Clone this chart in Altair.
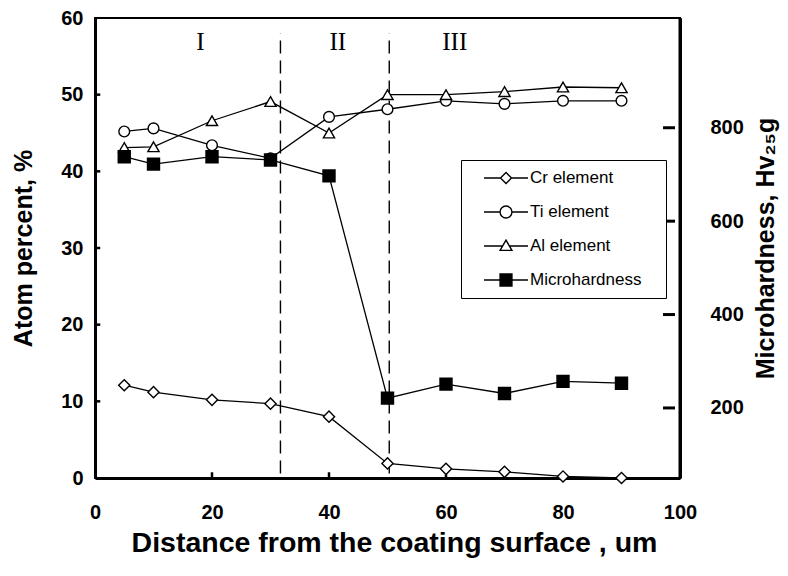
import altair as alt
import pandas as pd

# ---------------- data ----------------
distance = [5, 10, 20, 30, 40, 50, 60, 70, 80, 90]
cr_element = [12.1, 11.2, 10.2, 9.7, 8.0, 1.9, 1.2, 0.8, 0.2, 0.0]
ti_element = [45.2, 45.6, 43.4, 41.7, 47.1, 48.1, 49.2, 48.8, 49.2, 49.2]
al_element = [43.1, 43.2, 46.6, 49.1, 45.0, 50.0, 50.0, 50.4, 51.0, 50.9]
microhardness = [738, 722, 738, 731, 697, 221, 251, 231, 257, 253]

series_names = ["Cr element", "Ti element", "Al element", "Microhardness"]
x_ticks = [0, 20, 40, 60, 80, 100]
left_ticks = [0, 10, 20, 30, 40, 50, 60]
right_ticks = [200, 400, 600, 800]
boundaries = [31.7, 50.3]
region_labels = ["I", "II", "III"]
region_x = [18.0, 41.5, 61.5]
region_y = [56.9, 56.9, 56.9]

# ---------------- tables ----------------
elem = pd.DataFrame({
    "distance": distance * 3,
    "value": cr_element + ti_element + al_element,
    "series": ["Cr element"] * 10 + ["Ti element"] * 10 + ["Al element"] * 10,
})
micro = pd.DataFrame({"distance": distance, "hv": microhardness})
bound_df = pd.DataFrame({"b": boundaries, "y0": [0.6] * 2, "y1": [58.0] * 2})
region_df = pd.DataFrame({"label": region_labels, "x": region_x, "y": region_y})
xt_df = pd.DataFrame({"t": x_ticks[1:-1], "y0": [0.0] * 4, "y1": [0.75] * 4})
lt_df = pd.DataFrame({"t": left_ticks[1:-1], "x0": [0.0] * 5, "x1": [0.9] * 5})
rt_df = pd.DataFrame({"t": right_ticks, "x0": [97.1] * 4, "x1": [99.15] * 4})
frame_top = pd.DataFrame({"x0": [x_ticks[0]], "x1": [x_ticks[-1]], "y": [left_ticks[-1]]})
frame_right = pd.DataFrame({"x": [x_ticks[-1]], "y0": [left_ticks[0]], "y1": [left_ticks[-1]]})
legend_df = pd.DataFrame({"series": series_names, "distance": [0] * 4, "value": [0] * 4})

FONT = "Liberation Sans"

x_scale = alt.Scale(domain=[0, 100], nice=False, zero=False)
x_axis = alt.Axis(values=x_ticks, title="Distance from the coating surface , um",
                  labelPadding=24, titlePadding=6, titleFontSize=28.5, titleX=299,
                  ticks=False, grid=False, labelFlush=False)

left_scale = alt.Scale(domain=[0, 60], nice=False, zero=False)
left_axis = alt.Axis(values=left_ticks, orient="left", title="Atom percent, %",
                     labelPadding=12, titlePadding=24, ticks=False, grid=False)

right_scale = alt.Scale(domain=[50, 1035], nice=False, zero=False)
right_axis = alt.Axis(values=right_ticks, orient="right", title="Microhardness, Hv₂₅g",
                      titleAngle=270, labelPadding=30, titlePadding=35,
                      ticks=False, grid=False, domain=True, domainColor="black",
                      domainWidth=3)


def X(field):
    return alt.X(field, type="quantitative", scale=x_scale, axis=x_axis)


def YL(field):
    return alt.Y(field, type="quantitative", scale=left_scale, axis=left_axis)


def YR(field):
    return alt.Y(field, type="quantitative", scale=right_scale, axis=right_axis)


# ---------------- left-axis layers ----------------
elem_lines = alt.Chart(elem).mark_line(color="black", strokeWidth=1.3).encode(
    x=X("distance"), y=YL("value"), detail="series:N")

marker_style = dict(filled=True, fill="white", stroke="black", strokeWidth=1.4, opacity=1)
cr_pts = alt.Chart(elem).transform_filter(alt.datum.series == "Cr element").mark_point(
    shape="diamond", size=125, **marker_style).encode(x=X("distance"), y=YL("value"))
ti_pts = alt.Chart(elem).transform_filter(alt.datum.series == "Ti element").mark_point(
    shape="circle", size=115, **marker_style).encode(x=X("distance"), y=YL("value"))
al_pts = alt.Chart(elem).transform_filter(alt.datum.series == "Al element").mark_point(
    shape="triangle-up", size=125, **marker_style).encode(x=X("distance"), y=YL("value"))

bound_rules = alt.Chart(bound_df).mark_rule(color="black", strokeWidth=1.4,
                                             strokeDash=[13, 7]).encode(
    x=X("b"), y=YL("y0"), y2="y1")

region_text = alt.Chart(region_df).mark_text(font="Liberation Serif", fontSize=25,
                                             color="black", baseline="middle").encode(
    x=X("x"), y=YL("y"), text="label:N")

xticks_rules = alt.Chart(xt_df).mark_rule(color="black", strokeWidth=2.5).encode(
    x=X("t"), y=YL("y0"), y2="y1")
lticks_rules = alt.Chart(lt_df).mark_rule(color="black", strokeWidth=2.5).encode(
    x=X("x0"), x2="x1", y=YL("t"))
top_rule = alt.Chart(frame_top).mark_rule(color="black", strokeWidth=2).encode(
    x=X("x0"), x2="x1", y=YL("y"))
right_rule = alt.Chart(frame_right).mark_rule(color="black", strokeWidth=3).encode(
    x=X("x"), y=YL("y0"), y2="y1")

legend_paths = [
    "M-1,0H-0.25M0.25,0H1M-0.25,0L0,-0.25L0.25,0L0,0.25Z",
    "M-1,0H-0.27M0.27,0H1M-0.27,0A0.27,0.27,0,1,0,0.27,0A0.27,0.27,0,1,0,-0.27,0Z",
    "M-1,0H-0.155M0.155,0H1M0,-0.27L0.27,0.2L-0.27,0.2Z",
    "M-1,0H-0.27M0.27,0H1M-0.27,-0.27H0.27V0.27H-0.27Z",
]
legend_def = alt.Legend(
    title="\u00a0", titleOrient="right", titlePadding=17, titleFontSize=17,
    orient="none", legendX=366, legendY=142,
    padding=8, symbolOffset=14, symbolSize=1936, symbolStrokeColor="black",
    symbolStrokeWidth=1.4, symbolOpacity=1, clipHeight=20, rowPadding=14,
    labelFont=FONT, labelFontSize=17, labelColor="black", labelOffset=1,
    strokeColor="black", fillColor="white",
)
legend_layer = alt.Chart(legend_df).mark_point(filled=True, opacity=0).encode(
    x=X("distance"), y=YL("value"),
    shape=alt.Shape("series:N", scale=alt.Scale(domain=series_names, range=legend_paths),
                    legend=legend_def),
    fill=alt.Fill("series:N", scale=alt.Scale(domain=series_names,
                                              range=["white", "white", "white", "black"]),
                  legend=legend_def),
    stroke=alt.Stroke("series:N", scale=alt.Scale(domain=series_names,
                                                  range=["black"] * 4),
                      legend=legend_def),
)

left = alt.layer(bound_rules, xticks_rules, lticks_rules, top_rule, right_rule,
                 elem_lines, cr_pts, ti_pts, al_pts, region_text, legend_layer)

# ---------------- right-axis layers ----------------
micro_line = alt.Chart(micro).mark_line(color="black", strokeWidth=1.3).encode(
    x=X("distance"), y=YR("hv"))
micro_pts = alt.Chart(micro).mark_point(shape="square", size=130, filled=True,
                                        fill="black", stroke="black", opacity=1).encode(
    x=X("distance"), y=YR("hv"))
rticks_rules = alt.Chart(rt_df).mark_rule(color="black", strokeWidth=3).encode(
    x=X("x0"), x2="x1", y=YR("t"))

right = alt.layer(micro_line, micro_pts, rticks_rules)

chart = alt.layer(left, right).resolve_scale(y="independent").properties(
    width=585, height=460,
    autosize=alt.AutoSizeParams(type="none"),
    padding={"left": 87, "top": 10, "right": 100, "bottom": 90},
).configure_view(stroke="black", strokeWidth=2).configure_axis(
    domainColor="black", domainWidth=3,
    labelFont=FONT, labelFontSize=20, labelFontWeight="bold", labelColor="black",
    titleFont=FONT, titleFontSize=25, titleFontWeight="bold", titleColor="black",
)

chart.save("out.html", embed_options={"renderer": "svg", "actions": False})
